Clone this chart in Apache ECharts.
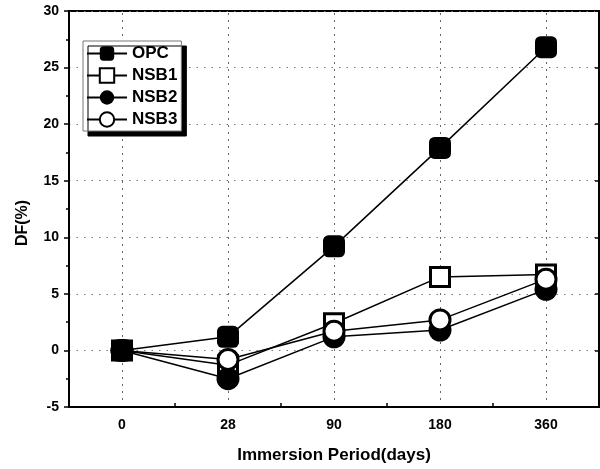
<!DOCTYPE html>
<html>
<head>
<meta charset="utf-8">
<script src="https://cdn.jsdelivr.net/npm/echarts@6/dist/echarts.min.js"></script>
<style>
  html, body { margin: 0; padding: 0; background: #fff; }
  #chart { width: 600px; height: 469px; }
</style>
</head>
<body>
<div id="chart"></div>
<script>
// Immersion periods (days) and DF(%) per mix
const periods = ['0', '28', '90', '180', '360'];
const opc  = [0, 1.2, 9.2, 17.9, 26.8];
const nsb1 = [0, -1.3, 2.4, 6.5, 6.7];
const nsb2 = [0, -2.5, 1.2, 1.8, 5.4];
const nsb3 = [0, -0.8, 1.7, 2.7, 6.3];
const yTicks = { min: -5, max: 30, step: 5 };

const FONT = 'Liberation Sans, Arial, sans-serif';
const gridLine = () => ({ color: '#777', width: 1.2, type: [1.5, 6] });

function series(name, data, symbol, filled, size) {
  return {
    name: name,
    type: 'line',
    data: data,
    symbol: symbol,
    symbolSize: size,
    showAllSymbol: true,
    lineStyle: { color: '#000', width: 1.5 },
    itemStyle: {
      color: filled ? '#000' : '#fff',
      borderColor: '#000',
      borderWidth: filled ? 0 : 3,
      opacity: 1
    },
    emphasis: { disabled: true },
    z: 3
  };
}

// dotted vertical guides through each immersion period
const guides = {
  type: 'custom',
  silent: true,
  z: 1,
  clip: false,
  data: periods.map(p => [p]),
  encode: { x: 0 },
  renderItem: function (params, api) {
    const cs = params.coordSys;
    // snap to the pixel grid so the 1px dots stay crisp
    const x = Math.round(api.coord([api.value(0), 0])[0]) + 0.5;
    return {
      type: 'line',
      shape: { x1: x, y1: cs.y + 2, x2: x, y2: cs.y + cs.height - 2 },
      style: { stroke: '#666', lineWidth: 1, lineDash: [2, 5] }
    };
  }
};

const chart = echarts.init(document.getElementById('chart'), null, { renderer: 'canvas' });
chart.setOption({
  animation: false,
  backgroundColor: '#fff',
  grid: {
    left: 69, right: 1, top: 11, bottom: 61,
    show: true, borderColor: '#000', borderWidth: 2, backgroundColor: 'transparent'
  },
  legend: {
    left: 83, top: 41,
    orient: 'vertical',
    padding: [4, 4, 3, 3],
    itemWidth: 40, itemHeight: 18, itemGap: 5,
    backgroundColor: '#fff',
    borderColor: '#777', borderWidth: 1,
    shadowColor: '#000', shadowBlur: 0, shadowOffsetX: 5, shadowOffsetY: 5,
    textStyle: { fontFamily: FONT, fontWeight: 'bold', fontSize: 17, color: '#000' },
    data: ['OPC', 'NSB1', 'NSB2', 'NSB3']
  },
  xAxis: {
    type: 'category',
    data: periods,
    boundaryGap: true,
    name: 'Immersion Period(days)',
    nameLocation: 'middle',
    nameGap: 40,
    nameTextStyle: { fontFamily: FONT, fontWeight: 'bold', fontSize: 17, color: '#000' },
    axisLine: { onZero: false, lineStyle: { color: '#000', width: 2 } },
    axisTick: { show: true, inside: true, length: 4, lineStyle: { color: '#000', width: 1.5 } },
    axisLabel: { fontFamily: FONT, fontWeight: 'bold', fontSize: 14, color: '#000', margin: 11 },
    splitLine: { show: false }
  },
  yAxis: [{
    type: 'value',
    min: yTicks.min, max: yTicks.max, interval: yTicks.step,
    name: 'DF(%)',
    nameLocation: 'middle',
    nameGap: 38,
    nameTextStyle: { fontFamily: FONT, fontWeight: 'bold', fontSize: 16, color: '#000', padding: [0, 28, 0, 0] },
    axisLine: { show: true, onZero: false, lineStyle: { color: '#000', width: 2 } },
    axisTick: { show: true, length: 5, lineStyle: { color: '#000', width: 1.5 } },
    minorTick: { show: true, splitNumber: 2, length: 3, lineStyle: { color: '#000', width: 1.5 } },
    axisLabel: { fontFamily: FONT, fontWeight: 'bold', fontSize: 14, color: '#000', margin: 10 },
    splitLine: { show: true, lineStyle: gridLine() }
  }, {
    type: 'value',
    position: 'right',
    min: yTicks.min, max: yTicks.max, interval: yTicks.step,
    axisLine: { show: true, onZero: false, lineStyle: { color: '#000', width: 2 } },
    axisTick: { show: true, inside: true, length: 4, lineStyle: { color: '#000', width: 1.5 } },
    axisLabel: { show: false },
    splitLine: { show: false }
  }],
  series: [
    guides,
    series('NSB1', nsb1, 'rect', false, 19),
    series('NSB2', nsb2, 'circle', true, 23),
    series('NSB3', nsb3, 'circle', false, 20),
    series('OPC', opc, 'roundRect', true, 22)
  ]
});
</script>
</body>
</html>
